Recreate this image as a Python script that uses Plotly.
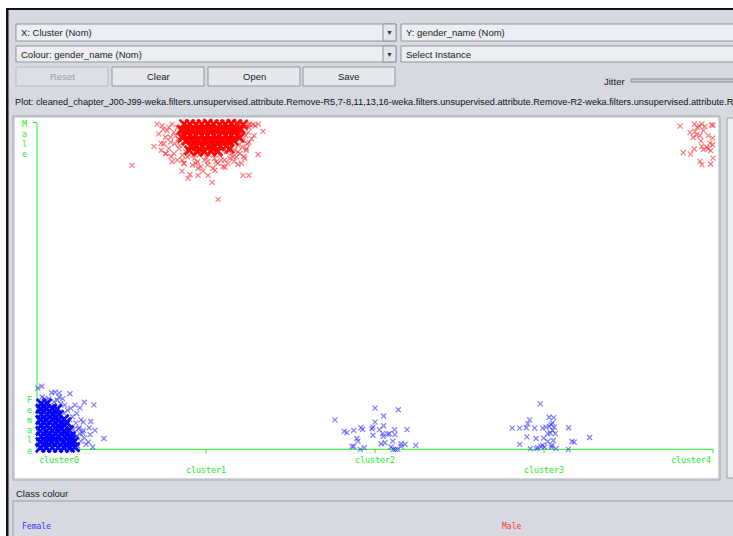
import plotly.graph_objects as go

W, H = 733, 536

# ---------------- data ----------------
clusters = ["cluster0", "cluster1", "cluster2", "cluster3", "cluster4"]
genders = ["Female", "Male"]

# jittered instances: (cluster value, gender value)  -- Female = 0, Male = 1
female_dense = [
    (0.02, 0.005), (0.055, 0.005), (0.09, 0.005), (0.125, 0.005), (0.16, 0.005), (0.195, 0.005), (0.225, 0.006),
    (0.02, 0.022), (0.05, 0.022), (0.085, 0.023), (0.12, 0.022), (0.155, 0.021), (0.19, 0.022), (0.22, 0.024),
    (0.025, 0.039), (0.06, 0.039), (0.095, 0.04), (0.13, 0.039), (0.165, 0.038), (0.2, 0.04),
    (0.02, 0.056), (0.055, 0.056), (0.09, 0.057), (0.125, 0.056), (0.16, 0.055), (0.19, 0.058),
    (0.025, 0.073), (0.06, 0.073), (0.095, 0.074), (0.13, 0.072), (0.165, 0.074),
    (0.02, 0.09), (0.055, 0.09), (0.09, 0.091), (0.125, 0.089), (0.16, 0.092),
    (0.025, 0.107), (0.06, 0.107), (0.095, 0.108), (0.13, 0.106),
    (0.02, 0.124), (0.055, 0.124), (0.09, 0.125), (0.12, 0.123),
    (0.025, 0.14), (0.06, 0.141),
    (0.04, 0.013), (0.105, 0.03), (0.175, 0.014), (0.07, 0.047), (0.14, 0.064), (0.04, 0.082),
    (0.11, 0.099), (0.075, 0.116), (0.04, 0.132), (0.205, 0.031), (0.145, 0.047), (0.175, 0.083),
]
female_points = [
    # cluster0 fringe
    (0.24, 0.01), (0.26, 0.025), (0.235, 0.04), (0.27, 0.05), (0.25, 0.065), (0.23, 0.08), (0.26, 0.09),
    (0.21, 0.1), (0.235, 0.11), (0.2, 0.125), (0.18, 0.12), (0.165, 0.135), (0.14, 0.14), (0.12, 0.15),
    (0.1, 0.145), (0.07, 0.155), (0.03, 0.16), (0.05, 0.15), (0.29, 0.015), (0.28, 0.035), (0.215, 0.06),
    (0.195, 0.09), (0.225, 0.135), (0.16, 0.11), (0.13, 0.16),
    (0.004, 0.187), (0.028, 0.193), (0.087, 0.173), (0.107, 0.175), (0.132, 0.172), (0.195, 0.17),
    (0.152, 0.155), (0.043, 0.155), (0.28, 0.144), (0.337, 0.136), (0.254, 0.127), (0.274, 0.083),
    (0.318, 0.085), (0.308, 0.066), (0.343, 0.058), (0.314, 0.045), (0.396, 0.033), (0.304, 0.022),
    (0.33, 0.007), (0.254, 0.048), (0.244, 0.063), (0.274, 0.058),
    # cluster2
    (1.763, 0.09), (2.0, 0.126), (2.138, 0.121), (2.051, 0.102), (2.0, 0.083), (2.051, 0.072), (1.818, 0.055),
    (1.834, 0.051), (1.874, 0.058), (1.917, 0.066), (1.927, 0.061), (1.982, 0.063), (1.988, 0.068),
    (2.026, 0.06), (1.988, 0.043), (2.049, 0.04), (2.085, 0.048), (2.116, 0.06), (2.118, 0.045),
    (2.189, 0.06), (1.893, 0.033), (1.899, 0.025), (2.036, 0.017), (2.059, 0.02), (2.105, 0.025),
    (2.154, 0.009), (2.178, 0.015), (2.241, 0.012), (1.864, 0.009), (1.874, 0.009), (1.913, 0.0),
    (1.937, 0.005), (2.095, 0.007), (2.12, 0.0), (2.134, 0.0), (2.107, 0.0), (2.046, 0.048),
    (2.077, 0.046), (2.154, 0.017),
    # cluster3
    (2.978, 0.139), (3.03, 0.098), (3.057, 0.097), (2.915, 0.09), (2.904, 0.078), (2.895, 0.066),
    (2.856, 0.065), (2.812, 0.065), (2.945, 0.065), (2.992, 0.065), (3.012, 0.068), (3.031, 0.07),
    (3.041, 0.076), (3.051, 0.081), (3.061, 0.068), (3.146, 0.066), (3.037, 0.05), (3.067, 0.048),
    (2.899, 0.038), (2.953, 0.033), (2.998, 0.034), (3.022, 0.024), (3.055, 0.027), (3.166, 0.024),
    (3.179, 0.022), (3.27, 0.036), (2.856, 0.015), (2.919, 0.002), (2.954, 0.002), (2.963, 0.005),
    (2.992, 0.012), (3.002, 0.007), (3.046, 0.012), (3.046, 0.007), (3.071, 0.002), (3.144, 0.0),
    (2.982, 0.009), (3.051, 0.058), (3.022, 0.048),
]
male_dense = [
    (0.87, 0.995), (0.905, 0.995), (0.94, 0.994), (0.975, 0.995), (1.01, 0.996), (1.045, 0.995),
    (1.08, 0.994), (1.115, 0.995), (1.15, 0.996), (1.185, 0.995), (1.22, 0.994),
    (0.855, 0.978), (0.89, 0.978), (0.925, 0.979), (0.96, 0.977), (0.995, 0.978), (1.03, 0.978),
    (1.065, 0.979), (1.1, 0.977), (1.135, 0.978), (1.17, 0.978), (1.205, 0.979),
    (0.87, 0.961), (0.905, 0.961), (0.94, 0.962), (0.975, 0.96), (1.01, 0.961), (1.045, 0.961),
    (1.08, 0.962), (1.115, 0.96), (1.15, 0.961), (1.185, 0.962),
    (0.885, 0.944), (0.92, 0.944), (0.955, 0.945), (0.99, 0.943), (1.025, 0.944), (1.06, 0.944),
    (1.095, 0.945), (1.13, 0.943), (1.165, 0.944),
    (0.91, 0.927), (0.945, 0.927), (0.98, 0.928), (1.015, 0.926), (1.05, 0.927), (1.085, 0.927), (1.12, 0.928),
    (0.95, 0.911), (0.99, 0.911), (1.03, 0.912), (1.07, 0.911),
    (0.888, 0.987), (0.958, 0.986), (1.028, 0.987), (1.098, 0.986), (1.168, 0.987),
    (0.922, 0.953), (0.992, 0.952), (1.062, 0.953), (1.132, 0.952), (0.96, 0.919), (1.04, 0.92),
    (1.198, 0.953), (0.86, 0.953), (1.14, 0.92), (0.9, 0.915),
]
male_points = [
    # cluster1 fringe
    (0.74, 0.99), (0.77, 0.975), (0.8, 0.995), (0.83, 0.985), (0.76, 0.955), (0.79, 0.94), (0.82, 0.96),
    (0.85, 0.945), (0.78, 0.92), (0.81, 0.905), (0.84, 0.92), (0.86, 0.9), (0.75, 0.935), (0.72, 0.965),
    (0.83, 0.885), (0.87, 0.875), (0.8, 0.88), (0.76, 0.905), (0.85, 0.97), (0.735, 0.915),
    (1.2, 0.995), (1.23, 0.985), (1.21, 0.965), (1.25, 0.97), (1.22, 0.945), (1.19, 0.93), (1.24, 0.92),
    (1.27, 0.95), (1.2, 0.905), (1.23, 0.89), (1.17, 0.915), (1.26, 0.995), (1.18, 0.895), (1.21, 0.875),
    (1.15, 0.905),
    (0.9, 0.9), (0.93, 0.89), (0.96, 0.9), (0.99, 0.885), (1.02, 0.9), (1.05, 0.89), (1.08, 0.9),
    (1.11, 0.885), (1.14, 0.89), (0.92, 0.87), (0.97, 0.865), (1.01, 0.87), (1.04, 0.86), (1.07, 0.875),
    (1.1, 0.865), (0.95, 0.88), (1.12, 0.91), (0.88, 0.91),
    (0.562, 0.869), (0.692, 0.927), (0.734, 0.936), (0.746, 0.979), (0.858, 0.851), (0.905, 0.841),
    (0.893, 0.829), (0.953, 0.838), (1.012, 0.838), (1.036, 0.817), (1.071, 0.765), (1.219, 0.838),
    (1.254, 0.838), (1.308, 0.902), (1.337, 0.973), (1.284, 0.96), (1.254, 0.939), (1.237, 0.915),
    (1.189, 0.872), (1.112, 0.863), (1.053, 0.854), (0.953, 0.86), (0.982, 0.851), (1.012, 0.881),
    (1.189, 0.994), (1.249, 0.994), (1.278, 0.994), (0.763, 0.905), (0.793, 0.896), (0.87, 0.875),
    (1.13, 0.875), (1.166, 0.881), (1.225, 0.896), (0.71, 0.995), (1.29, 0.99), (1.31, 0.995),
    (0.78, 0.985), (0.81, 0.97), (0.835, 0.95), (0.79, 0.955), (0.815, 0.935), (0.845, 0.93),
    (1.235, 0.96), (1.245, 0.935), (1.215, 0.925), (1.255, 0.985), (1.19, 0.91), (1.16, 0.895),
    (0.89, 0.895), (0.94, 0.875), (1.0, 0.895), (1.06, 0.88), (1.09, 0.885), (0.86, 0.885),
    # cluster4
    (3.805, 0.989), (3.889, 0.995), (3.907, 0.985), (3.919, 0.989), (3.933, 0.995), (3.953, 0.988),
    (3.992, 0.993), (4.0, 0.991), (3.864, 0.97), (3.893, 0.973), (3.943, 0.975), (3.883, 0.954),
    (3.903, 0.962), (3.923, 0.96), (3.972, 0.96), (3.998, 0.952), (3.929, 0.944), (3.933, 0.927),
    (3.943, 0.917), (3.963, 0.924), (3.972, 0.92), (3.986, 0.914), (3.998, 0.932), (3.889, 0.919),
    (3.824, 0.908), (3.868, 0.903), (3.923, 0.881), (3.935, 0.871), (3.986, 0.873), (4.0, 0.891),
    (3.982, 0.937),
]

plot_title = ("Plot: cleaned_chapter_J00-J99-weka.filters.unsupervised.attribute.Remove-R5,7-8,11,13,16-"
              "weka.filters.unsupervised.attribute.Remove-R2-weka.filters.unsupervised.attribute.R")

# ---------------- styling helpers ----------------
GREEN = "#22ee22"
GUI_BG = "#d6d9df"
BORDER = "#8f959e"
SANS = "Liberation Sans, Arial, sans-serif"
MONO = "DejaVu Sans Mono, Liberation Mono, monospace"

def fx(p):
    return p / W

def fy(p):
    return 1 - p / H

# data mapping (pixels of reference): cluster0 at x=37, 169 px per cluster; Male at y=122.5, Female at y=449.3
PX0, PXS = 37.0, 169.0
PY1, PYS = 122.5, 326.8
PL, PR, PT, PB = 15, 718, 118, 478

xr = [(PL - PX0) / PXS, (PR - PX0) / PXS]
yr = [1 - (PB - PY1) / PYS, 1 - (PT - PY1) / PYS]

fig = go.Figure()

def add_pts(pts, color, size, width, opacity):
    fig.add_trace(go.Scatter(
        x=[p[0] for p in pts], y=[p[1] for p in pts], mode="markers",
        marker=dict(symbol="x-thin", size=size, color=color, opacity=opacity,
                    line=dict(width=width, color=color)),
        hoverinfo="skip", showlegend=False))

add_pts(female_dense, "#0000ff", 9, 2.8, 0.95)
add_pts(female_points, "#2a2aff", 5, 1.2, 0.6)
add_pts(male_dense, "#ff0000", 9, 2.8, 0.95)
add_pts(male_points, "#ff2020", 5, 1.2, 0.6)

shapes = []
ann = []

def rect(x0, y0, x1, y1, fill=None, line=None, lw=1, layer="above"):
    shapes.append(dict(type="rect", xref="paper", yref="paper",
                       x0=fx(x0), x1=fx(x1), y0=fy(y1), y1=fy(y0),
                       fillcolor=fill if fill else "rgba(0,0,0,0)",
                       line=dict(color=line if line else "rgba(0,0,0,0)", width=lw if line else 0),
                       layer=layer))

def text(x, y, s, color="#1a1a1a", size=9.5, family=SANS, xanchor="left"):
    ann.append(dict(xref="paper", yref="paper", x=fx(x), y=fy(y), text=s, showarrow=False,
                    xanchor=xanchor, yanchor="middle", font=dict(family=family, size=size, color=color)))

# window frame
rect(0, 0, 740, 8, fill="white")
rect(0, 0, 6, 540, fill="white")
rect(6, 8, 740, 10, fill="#111111")
rect(6, 8, 8.5, 540, fill="#111111")

# combo boxes
for (x0, x1, y0, y1, label, arrow) in [
    (16, 396, 24, 41, "X: Cluster (Nom)", True),
    (401, 745, 24, 41, "Y: gender_name (Nom)", False),
    (16, 396, 46, 62, "Colour: gender_name (Nom)", True),
    (401, 745, 46, 62, "Select Instance", False),
]:
    rect(x0, y0, x1, y1, fill="#eceef1", line=BORDER)
    if arrow:
        rect(383, y0, x1, y1, fill="#e2e5e9", line=BORDER)
        text(389.5, (y0 + y1) / 2 + 0.5, "▼", color="#333333", size=7, xanchor="center")
    text(x0 + 3, (y0 + y1) / 2 + 0.5, label)

# buttons
for (x0, x1, label, enabled) in [
    (16, 108, "Reset", False), (112, 204, "Clear", True),
    (208, 300, "Open", True), (303, 395, "Save", True),
]:
    rect(x0, 67, x1, 86, fill="#e6e8eb" if enabled else "#dcdfe3",
         line=BORDER if enabled else "#b9bdc4")
    text((x0 + x1) / 2, 76.5, label, color="#1a1a1a" if enabled else "#9a9ea6", xanchor="center")

# jitter slider
text(627, 81, "Jitter", xanchor="right")
rect(631, 79, 745, 82, fill="#c6cad0", line="#8a9099")

# plot title
text(13, 101.5, plot_title, color="#111111", size=9.2)

# plot panel border and right panel
rect(13, 116, 720, 480, line="#a5aab2")
rect(727, 118, 745, 478, fill="#eceef1", line="#9aa0a8")

# class colour panel
text(14, 493, "Class colour")
rect(13, 501, 745, 545, line="#9aa0a8")
text(20, 526, genders[0], color="#3030ff", size=8, family=MONO)
text(500, 526, genders[1], color="#ff3030", size=8, family=MONO)

# green axes (data coordinates)
shapes.append(dict(type="line", xref="x", yref="y", x0=0, x1=len(clusters) - 1, y0=0, y1=0,
                   line=dict(color=GREEN, width=1), layer="below"))
shapes.append(dict(type="line", xref="x", yref="y", x0=0, x1=0, y0=0, y1=1,
                   line=dict(color=GREEN, width=1), layer="below"))
for i in range(len(clusters)):
    shapes.append(dict(type="line", xref="x", yref="y", xsizemode="scaled", ysizemode="pixel",
                       yanchor=0, x0=i, x1=i, y0=0, y1=-4, line=dict(color=GREEN, width=1), layer="below"))
shapes.append(dict(type="line", xref="x", yref="y", xsizemode="pixel", xanchor=0,
                   x0=-4, x1=0, y0=1, y1=1, line=dict(color=GREEN, width=1), layer="below"))

# cluster tick labels
for i, c in enumerate(clusters):
    if i == 0:
        xa = "left"
    elif i == len(clusters) - 1:
        xa = "right"
    else:
        xa = "center"
    ys = -11 if i % 2 == 0 else -20.5
    ann.append(dict(xref="x", yref="y", x=i, y=0, text=c, showarrow=False, xanchor=xa,
                    yanchor="middle", yshift=ys, font=dict(family=MONO, size=8.3, color=GREEN)))

# vertical gender labels
for k, ch in enumerate(genders[1]):
    ann.append(dict(xref="x", yref="y", x=0, y=1, text=ch, showarrow=False, xanchor="center",
                    yanchor="middle", xshift=-12.5, yshift=-1.5 - 10 * k,
                    font=dict(family=MONO, size=8.3, color=GREEN)))
for k, ch in enumerate(genders[0]):
    ann.append(dict(xref="x", yref="y", x=0, y=0, text=ch, showarrow=False, xanchor="center",
                    yanchor="middle", xshift=-7.5, yshift=49.3 - 10.1 * k,
                    font=dict(family=MONO, size=8.3, color=GREEN)))

fig.update_layout(
    width=W, height=H, margin=dict(l=0, r=0, t=0, b=0),
    paper_bgcolor=GUI_BG, plot_bgcolor="white",
    xaxis=dict(domain=[PL / W, PR / W], range=xr, visible=False, fixedrange=True),
    yaxis=dict(domain=[1 - PB / H, 1 - PT / H], range=yr, visible=False, fixedrange=True),
    shapes=shapes, annotations=ann, showlegend=False,
)

fig.write_html("out.html", config={"displayModeBar": False},
               post_script="document.body.style.margin='0';document.body.style.overflow='hidden';")
